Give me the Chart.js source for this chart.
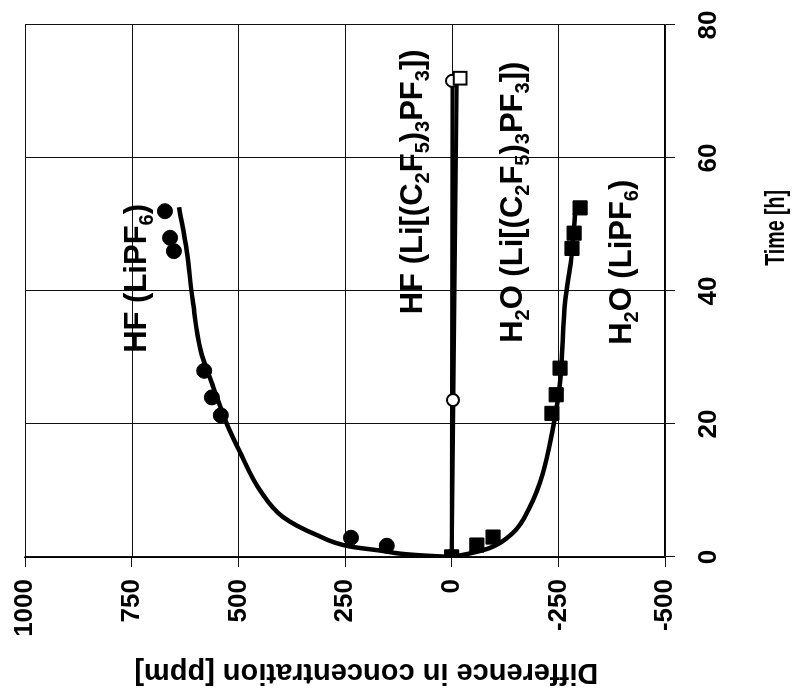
<!DOCTYPE html>
<html>
<head>
<meta charset="utf-8">
<script src="https://cdn.jsdelivr.net/npm/chart.js@4.4.1/dist/chart.umd.min.js"></script>
<style>
  html, body { margin: 0; padding: 0; background: #fff; }
  #wrap { position: relative; width: 794px; height: 691px; overflow: hidden; }
  /* chart is drawn upright, then turned a quarter to the left like the scan */
  #chart { position: absolute; left: 0; top: 0; transform-origin: 0 0; transform: translate(0, 691px) rotate(-90deg); }
</style>
</head>
<body>
<div id="wrap"><canvas id="chart" width="691" height="794"></canvas></div>
<script>
const timeTicks = [0, 20, 40, 60, 80];
const concTicks = [1000, 750, 500, 250, 0, -250, -500];

// measured points
const hfLipf6Time = [0, 1.7, 2.9, 21.3, 24, 28, 46, 48, 52];
const hfLipf6Conc = [0, 152, 236, 541, 562, 580, 651, 660, 672];
const h2oLipf6Time = [0, 1.8, 3, 21.6, 24.4, 28.4, 46.4, 48.7, 52.5];
const h2oLipf6Conc = [0, -59, -97, -235, -245, -254, -282, -287, -301];
const hfLifapTime = [0, 23.6, 71.6];
const hfLifapConc = [0, -3, -1];
const h2oLifapTime = [0, 72];
const h2oLifapConc = [0, -20];

// fitted curves
const hfFitTime = [0, 0.2, 0.5, 0.9, 1.6, 3.3, 6, 10, 16, 20, 25.6, 31, 38.6, 46, 52.6];
const hfFitConc = [0, 60, 120, 160, 240, 316, 395, 449, 498, 527, 559, 588, 607, 621, 639];
const h2oFitTime = [0, 0.5, 1.35, 3.6, 7.5, 12.6, 18.6, 26.2, 38.6, 44.7, 52];
const h2oFitConc = [0, -40, -89, -143, -183, -214, -235, -254, -266, -280, -290];
const hfLifapFitTime = [0, 71.6];
const hfLifapFitConc = [0, -2];
const h2oLifapFitTime = [0, 71.6];
const h2oLifapFitConc = [0, -12];

const pts = (xs, ys) => xs.map((x, i) => ({ x, y: ys[i] }));

// in-plot labels: [text, isSubscript]
const labels = [
  { parts: [["HF (LiPF", 0], ["6", 1], [")", 0]], t: 30.7, c: 716 },
  { parts: [["HF (Li[(C", 0], ["2", 1], ["F", 0], ["5", 1], [")", 0], ["3", 1], ["PF", 0], ["3", 1], ["])", 0]], t: 36.5, c: 70 },
  { parts: [["H", 0], ["2", 1], ["O (Li[(C", 0], ["2", 1], ["F", 0], ["5", 1], [")", 0], ["3", 1], ["PF", 0], ["3", 1], ["])", 0]], t: 32.2, c: -165 },
  { parts: [["H", 0], ["2", 1], ["O (LiPF", 0], ["6", 1], [")", 0]], t: 31.9, c: -420 },
];

const FONT = "'Liberation Sans', Arial, sans-serif";
// the scan uses a condensed face for axis text; use it if it is installed
const narrowOk = (() => {
  const c = document.createElement("canvas").getContext("2d");
  c.font = "bold 20px 'Liberation Sans Narrow', monospace";
  const a = c.measureText("1000 Time").width;
  c.font = "bold 20px 'Liberation Sans Narrow', serif";
  return a === c.measureText("1000 Time").width;
})();
const AXIS_FONT = narrowOk ? "'Liberation Sans Narrow', " + FONT : FONT;
const tickSize = narrowOk ? 31 : 26;
const timeTitleSize = narrowOk ? 34 : 28;
const concTitleSize = narrowOk ? 35 : 29;

const drawPlugin = {
  id: "extras",
  beforeDatasetsDraw(chart) {
    const { ctx, chartArea, scales } = chart;
    ctx.save();
    ctx.strokeStyle = "#111";
    ctx.lineWidth = 1;
    ctx.beginPath();
    timeTicks.forEach((t) => {
      const x = Math.round(scales.x.getPixelForValue(t)) + 0.5;
      ctx.moveTo(x, chartArea.top);
      ctx.lineTo(x, chartArea.bottom);
    });
    concTicks.forEach((c) => {
      const y = Math.round(scales.y.getPixelForValue(c)) + 0.5;
      ctx.moveTo(chartArea.left, y);
      ctx.lineTo(chartArea.right, y);
    });
    ctx.stroke();
    ctx.restore();
  },
  afterDatasetsDraw(chart) {
    const { ctx, scales } = chart;
    ctx.save();
    ctx.fillStyle = "#000";
    ctx.textBaseline = "alphabetic";
    ctx.textAlign = "left";
    labels.forEach((l) => {
      let x = scales.x.getPixelForValue(l.t);
      const y = scales.y.getPixelForValue(l.c);
      l.parts.forEach(([s, sub]) => {
        ctx.font = `bold ${sub ? 20 : 31}px ${FONT}`;
        ctx.fillText(s, x, sub ? y + 7 : y);
        x += ctx.measureText(s).width;
      });
    });

    // axis titles (placed off-centre as in the original)
    ctx.textAlign = "center";
    ctx.textBaseline = "middle";
    ctx.save();
    ctx.translate(scales.x.getPixelForValue(49.5), 776);
    ctx.scale(0.7, 1);
    ctx.font = `bold ${timeTitleSize}px ${AXIS_FONT}`;
    ctx.fillText("Time [h]", 0, 0);
    ctx.restore();
    ctx.translate(19, scales.y.getPixelForValue(200));
    ctx.rotate(-Math.PI / 2);
    ctx.font = `bold ${concTitleSize}px ${AXIS_FONT}`;
    ctx.fillText("Difference in concentration [ppm]", 0, 0);
    ctx.restore();
  },
};

Chart.defaults.font.family = AXIS_FONT;
Chart.defaults.font.weight = "bold";
Chart.defaults.color = "#000";

new Chart(document.getElementById("chart"), {
  type: "scatter",
  data: {
    datasets: [
      { data: pts(hfFitTime, hfFitConc), showLine: true, pointRadius: 0, borderColor: "#000", borderWidth: 4.5, cubicInterpolationMode: "monotone", order: 5 },
      { data: pts(h2oFitTime, h2oFitConc), showLine: true, pointRadius: 0, borderColor: "#000", borderWidth: 4.5, cubicInterpolationMode: "monotone", order: 5 },
      { data: pts(hfLifapFitTime, hfLifapFitConc), showLine: true, pointRadius: 0, borderColor: "#000", borderWidth: 4, order: 5 },
      { data: pts(h2oLifapFitTime, h2oLifapFitConc), showLine: true, pointRadius: 0, borderColor: "#000", borderWidth: 4, order: 5 },
      { data: pts(hfLipf6Time, hfLipf6Conc), pointStyle: "circle", pointRadius: 7.5, backgroundColor: "#000", borderColor: "#000", order: 2 },
      { data: pts(h2oLipf6Time, h2oLipf6Conc), pointStyle: "rect", pointRadius: 10, backgroundColor: "#000", borderColor: "#000", order: 1 },
      { data: pts(h2oLifapTime, h2oLifapConc), pointStyle: "rect", pointRadius: 9, backgroundColor: "#fff", borderColor: "#000", borderWidth: 2, order: 3 },
      { data: pts(hfLifapTime, hfLifapConc), pointStyle: "circle", pointRadius: 6, backgroundColor: "#fff", borderColor: "#000", borderWidth: 2, order: 3 },
    ],
  },
  options: {
    responsive: false,
    animation: false,
    devicePixelRatio: 1,
    layout: { padding: 0 },
    plugins: { legend: { display: false }, tooltip: { enabled: false } },
    scales: {
      x: {
        type: "linear",
        min: 0,
        max: 80,
        afterBuildTicks: (s) => { s.ticks = timeTicks.map((v) => ({ value: v })); },
        afterFit: (s) => { s.height = 129; s.paddingLeft = 0; s.paddingRight = 25; },
        ticks: { font: { size: tickSize }, padding: 18, maxRotation: 0, callback: (v) => String(v) },
        grid: { drawOnChartArea: false, color: "#111", lineWidth: 1, tickLength: 10 },
        border: { color: "#000", width: 1.5 },
        title: { display: false },
      },
      y: {
        type: "linear",
        min: -500,
        max: 1000,
        afterBuildTicks: (s) => { s.ticks = concTicks.map((v) => ({ value: v })); },
        afterFit: (s) => { s.width = 134; s.paddingTop = 25; s.paddingBottom = 0; },
        ticks: { font: { size: tickSize }, padding: 12, callback: (v) => String(v) },
        grid: { drawOnChartArea: false, color: "#111", lineWidth: 1, tickLength: 10 },
        border: { color: "#000", width: 1.5 },
        title: { display: false },
      },
    },
  },
  plugins: [drawPlugin],
});
</script>
</body>
</html>
